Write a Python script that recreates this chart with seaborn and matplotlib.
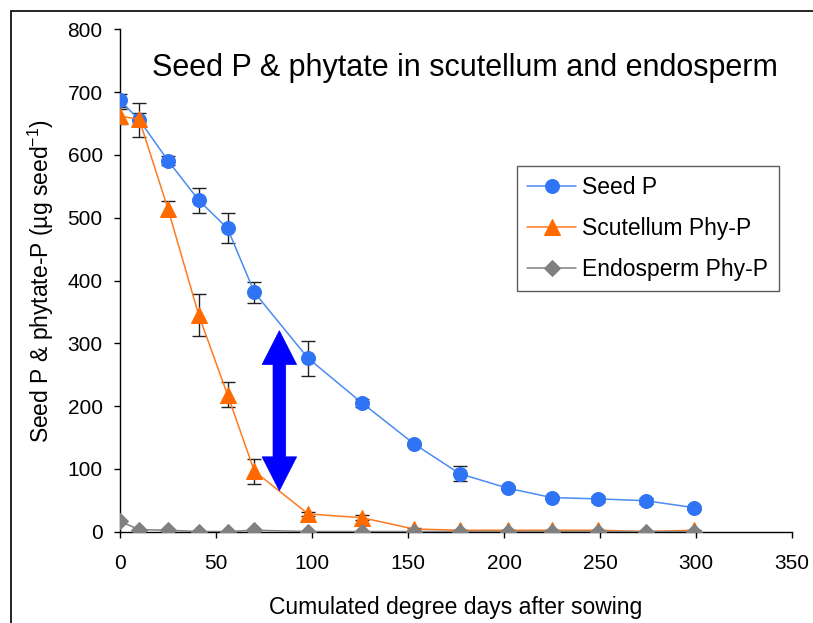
import matplotlib
matplotlib.use("Agg")
import matplotlib.pyplot as plt
import seaborn as sns
import pandas as pd
from matplotlib.patches import Polygon, Rectangle

# ---- data ----
degree_days = [0, 10, 25, 41, 56, 70, 98, 126, 153, 177, 202, 225, 249, 274, 299]
seed_p = [687, 656, 591, 528, 483, 381, 276, 205, 140, 92, 69, 54, 52, 49, 38]
seed_p_err = [11, 27, 7, 20, 24, 17, 28, 6, 3, 12, 3, 3, 5, 5, 3]
scutellum_phy_p = [662, 657, 514, 345, 218, 96, 28, 22, 4, 2, 2, 2, 2, 0, 2]
scutellum_err = [12, 10, 12, 33, 20, 20, 3, 4, 2, 1, 1, 1, 1, 1, 1]
endosperm_phy_p = [16, 3, 2, 0, 0, 2, 0, 0, 0, 0, 0, 0, 0, 0, 0]
series_names = ["Seed P", "Scutellum Phy-P", "Endosperm Phy-P"]
x_ticks = [0, 50, 100, 150, 200, 250, 300, 350]
y_ticks = [0, 100, 200, 300, 400, 500, 600, 700, 800]
arrow_x = 83
arrow_top = 320
arrow_bottom = 65

title = "Seed P & phytate in scutellum and endosperm"
xlabel = "Cumulated degree days after sowing"
ylabel = r"Seed P & phytate-P (µg seed$^{-1}$)"

sns.set_style("ticks")
plt.rcParams["font.family"] = ["Liberation Sans", "DejaVu Sans"]
plt.rcParams["mathtext.fontset"] = "custom"
plt.rcParams["mathtext.rm"] = "Liberation Sans"
plt.rcParams["mathtext.it"] = "Liberation Sans"
plt.rcParams["mathtext.default"] = "regular"
plt.rcParams["text.color"] = "black"
plt.rcParams["axes.labelcolor"] = "black"
plt.rcParams["xtick.color"] = "black"
plt.rcParams["ytick.color"] = "black"

df = pd.DataFrame({
    "x": degree_days * 3,
    "y": seed_p + scutellum_phy_p + endosperm_phy_p,
    "series": [series_names[0]] * len(degree_days)
    + [series_names[1]] * len(degree_days)
    + [series_names[2]] * len(degree_days),
})

fig = plt.figure(figsize=(8.13, 6.23), dpi=100)
ax = fig.add_axes([120 / 813, 1 - 531.5 / 623, 672 / 813, 502 / 623])

# figure frame
fig.patches.append(Rectangle((11 / 813, -0.05), 1.2, 1 - 11 / 623 + 0.05,
                             transform=fig.transFigure, fill=False,
                             edgecolor="black", linewidth=1.2))

# error bars (behind markers)
ax.errorbar(degree_days, seed_p, yerr=seed_p_err, fmt="none", ecolor="#222222",
            elinewidth=1, capsize=5, capthick=1, zorder=1)
ax.errorbar(degree_days, scutellum_phy_p, yerr=scutellum_err, fmt="none",
            ecolor="#222222", elinewidth=1, capsize=5, capthick=1, zorder=1)

palette = {series_names[0]: "#2f74f4", series_names[1]: "#ff6a00",
           series_names[2]: "#808080"}
line_colors = {series_names[0]: "#4a8cf0", series_names[1]: "#ff7a1f",
               series_names[2]: "#808080"}
markers = {series_names[0]: "o", series_names[1]: "^", series_names[2]: "D"}
msizes = {series_names[0]: 10, series_names[1]: 11, series_names[2]: 8.5}

for name in series_names:
    sub = df[df["series"] == name]
    sns.lineplot(data=sub, x="x", y="y", ax=ax, color=line_colors[name],
                 linewidth=1.1, marker=markers[name], markersize=msizes[name],
                 markerfacecolor=palette[name], markeredgecolor=palette[name],
                 label=name, zorder=3, estimator=None, sort=False)

# double-headed arrow as one polygon (x half-widths in data units, head length in y units)
shaft_hw = 3.3
head_hw = 9
head_len = 54
arrow_pts = [
    (arrow_x, arrow_top),
    (arrow_x + head_hw, arrow_top - head_len),
    (arrow_x + shaft_hw, arrow_top - head_len),
    (arrow_x + shaft_hw, arrow_bottom + head_len),
    (arrow_x + head_hw, arrow_bottom + head_len),
    (arrow_x, arrow_bottom),
    (arrow_x - head_hw, arrow_bottom + head_len),
    (arrow_x - shaft_hw, arrow_bottom + head_len),
    (arrow_x - shaft_hw, arrow_top - head_len),
    (arrow_x - head_hw, arrow_top - head_len),
]
ax.add_patch(Polygon(arrow_pts, closed=True, facecolor="#0000ff",
                     edgecolor="#0000ff", linewidth=0.5, zorder=4))

ax.set_xlim(0, 350)
ax.set_ylim(0, 800)
ax.set_xticks(x_ticks)
ax.set_yticks(y_ticks)
ax.tick_params(axis="both", labelsize=15, length=4.5, width=1, color="black",
               direction="out", labelcolor="black")
ax.tick_params(axis="y", pad=8)
ax.tick_params(axis="x", pad=12)
for s in ["top", "right"]:
    ax.spines[s].set_visible(False)
for s in ["left", "bottom"]:
    ax.spines[s].set_linewidth(1)
    ax.spines[s].set_color("black")

ax.set_xlabel(xlabel, fontsize=16.5, labelpad=16, color="black")
ax.set_ylabel(ylabel, fontsize=16.5, labelpad=8, color="black")
ax.text(0.513, 0.923, title, transform=ax.transAxes, fontsize=22,
        ha="center", va="center", color="black")

leg = ax.legend(loc="upper left", bbox_to_anchor=(0.591, 0.728), fontsize=16.5,
                frameon=True, fancybox=False, edgecolor="#333333",
                handlelength=2.1, handletextpad=0.3, labelspacing=0.78,
                borderpad=0.45, borderaxespad=0)
leg.get_frame().set_linewidth(1)
for t in leg.get_texts():
    t.set_color("black")

fig.savefig("out.png", dpi=100)
